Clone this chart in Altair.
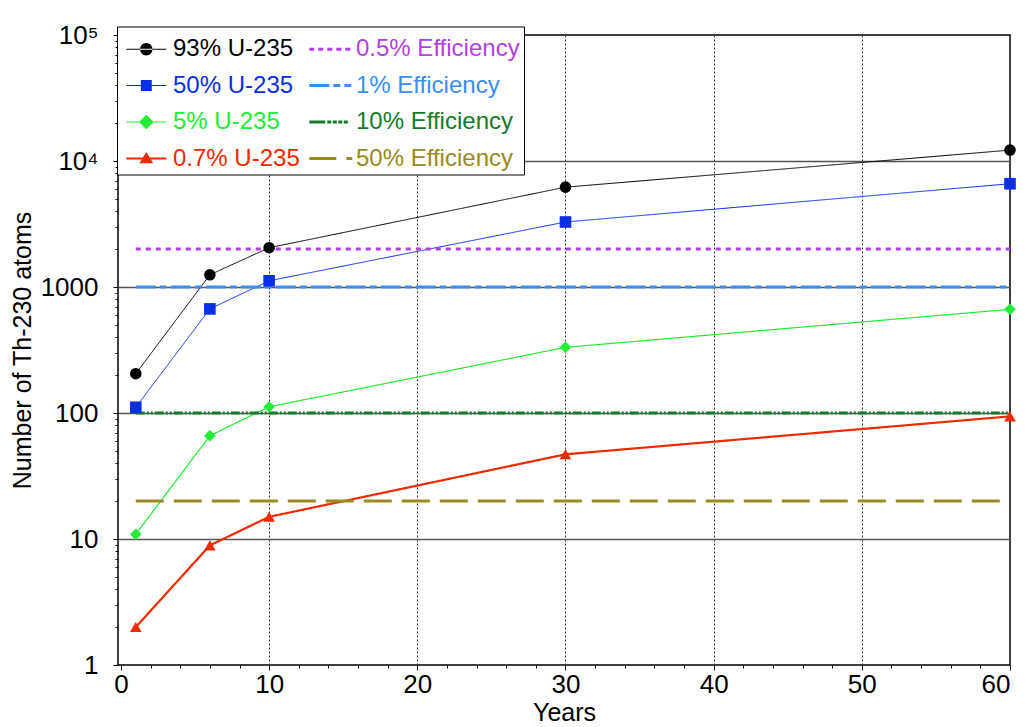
import altair as alt
import pandas as pd

years = [1, 6, 10, 30, 60]
u93 = [205, 1250, 2050, 6200, 12200]
u50 = [111, 670, 1120, 3280, 6600]
u5 = [10.9, 66, 112, 332, 665]
u07 = [2.0, 8.9, 15, 47, 94]

u_names = ["93% U-235", "50% U-235", "5% U-235", "0.7% U-235"]
u_markers = ["circle", "square", "diamond", "triangle-up"]
u_colors = ["#000000", "#0a2ee6", "#22ee33", "#ee2a00"]
u_widths = [1, 1, 1.2, 2.2]

eff_names = ["0.5% Efficiency", "1% Efficiency", "10% Efficiency", "50% Efficiency"]
eff_values = [2000, 1000, 100, 20]
eff_colors = ["#b23fe0", "#3a8ef2", "#137a2a", "#9a8a20"]
eff_dashes = [[5, 5], [20, 4, 7, 4], [9, 2, 2, 2, 2, 2], [28, 10]]
eff_years = [1, 60]

order = u_names + eff_names

# ---- legend symbol geometry (style only) ----
SYM = 1325                      # legend symbol area -> 36.4 px box
U = (SYM ** 0.5) / 2            # px per path unit


def rect(a, b, t):
    a, b, t = a / U, b / U, t / U
    return f"M{a:.3f},{-t:.3f}L{b:.3f},{-t:.3f}L{b:.3f},{t:.3f}L{a:.3f},{t:.3f}Z"


def dashed(pattern, start, t):
    out, x, on = "", start, True
    for seg in pattern:
        if on:
            out += rect(x, x + seg, t)
        x += seg
        on = not on
    return out


m = 6.8 / U
marker_paths = {
    "circle": f"M{m - 0.34:.3f},0A0.34,0.34 0 1,0 {m + 0.34:.3f},0A0.34,0.34 0 1,0 {m - 0.34:.3f},0Z",
    "square": f"M{m - 0.3:.3f},-0.3L{m + 0.3:.3f},-0.3L{m + 0.3:.3f},0.3L{m - 0.3:.3f},0.3Z",
    "diamond": f"M{m:.3f},-0.4L{m + 0.4:.3f},0L{m:.3f},0.4L{m - 0.4:.3f},0Z",
    "triangle-up": f"M{m:.3f},-0.36L{m + 0.38:.3f},0.26L{m - 0.38:.3f},0.26Z",
}
legend_dash = {
    "0.5% Efficiency": [5, 4, 5, 4, 5, 4, 5, 4, 5],
    "1% Efficiency": [20, 4, 7, 4, 7],
    "10% Efficiency": [16, 2, 4, 1.5, 4, 1.5, 4, 1.5, 4],
    "50% Efficiency": [27, 10, 6],
}

style = {}
for n, mk, c, w in zip(u_names, u_markers, u_colors, u_widths):
    style[n] = {"color": c, "dash": [1, 0], "width": w,
                "path": rect(-13.2, 26.8, w / 2) + marker_paths[mk]}
for n, c, d in zip(eff_names, eff_colors, eff_dashes):
    style[n] = {"color": c, "dash": d, "width": 3,
                "path": dashed(legend_dash[n], -13.2, 1.6)}

rows = []
for name, marker, vals in zip(u_names, u_markers, [u93, u50, u5, u07]):
    for yr, v in zip(years, vals):
        rows.append({"series": name, "year": yr, "value": v, "kind": "u", "marker": marker,
                     "color": style[name]["color"], "dash": style[name]["dash"], "width": style[name]["width"]})
for name, v in zip(eff_names, eff_values):
    for yr in eff_years:
        rows.append({"series": name, "year": yr, "value": v, "kind": "eff", "marker": "circle",
                     "color": style[name]["color"], "dash": style[name]["dash"], "width": style[name]["width"]})
df = pd.DataFrame(rows)

FONT = "Liberation Sans"

x_vals = list(range(0, 61, 2))
y_vals = []
for d in [1, 10, 100, 1000, 10000]:
    for k in range(1, 10):
        y_vals.append(k * d)
y_vals.append(100000)

x_enc = alt.X(
    "year:Q",
    scale=alt.Scale(domain=[-0.2, 60], nice=False, zero=False),
    axis=alt.Axis(
        title="Years", values=x_vals,
        labelExpr="datum.value % 10 == 0 ? datum.label : ''",
        gridDash=[2, 2], gridColor="#333333",
        gridOpacity={"condition": {"test": "datum.value % 10 == 0 && datum.value > 0 && datum.value < 60", "value": 1}, "value": 0},
        tickSize={"condition": {"test": "datum.value % 10 == 0", "value": 5}, "value": 3},
        tickColor="black", domain=False,
        labelFont=FONT, labelFontSize=26, labelColor="black", labelPadding=1,
        titleFont=FONT, titleFontSize=25, titleFontWeight="normal", titleColor="black", titlePadding=3,
    ),
)
y_enc = alt.Y(
    "value:Q",
    scale=alt.Scale(type="log", domain=[1, 100000], nice=False),
    axis=alt.Axis(
        title="Number of Th-230 atoms", values=y_vals,
        labelExpr="datum.value == 100000 ? '10⁵' : datum.value == 10000 ? '10⁴' : indexof([1, 10, 100, 1000], datum.value) >= 0 ? format(datum.value, 'd') : ''",
        gridColor="#555555", gridWidth=1.3,
        gridOpacity={"condition": {"test": "indexof([10, 100, 1000, 10000], datum.value) >= 0", "value": 1}, "value": 0},
        tickSize={"condition": {"test": "indexof([1, 10, 100, 1000, 10000, 100000], datum.value) >= 0", "value": 5}, "value": 3},
        tickColor="black", domain=False,
        labelFont=FONT, labelFontSize=26, labelColor="black", labelPadding=15,
        titleFont=FONT, titleFontSize=25, titleFontWeight="normal", titleColor="black", titlePadding=5,
    ),
)

lines = alt.Chart(df).mark_line(clip=True).encode(
    x=x_enc, y=y_enc,
    detail="series:N",
    color=alt.Color("color:N", scale=None),
    strokeDash=alt.StrokeDash("dash:N", scale=None),
    strokeWidth=alt.StrokeWidth("width:Q", scale=None),
    order="year:Q",
)

points = alt.Chart(df).transform_filter("datum.kind == 'u'").mark_point(filled=True, opacity=1, size=135).encode(
    x=x_enc, y=y_enc,
    color=alt.Color("color:N", scale=None),
    shape=alt.Shape("marker:N", scale=None),
)

# legend-only layer (no rows pass the filter); symbols are drawn by the shape scale's paths
q = lambda s: "'" + s + "'"
names_js = "[" + ",".join(q(n) for n in order) + "]"
colors_js = "[" + ",".join(q(style[n]["color"]) for n in order) + "]"
label_color_expr = colors_js + "[indexof(" + names_js + ", datum.value)]"

legend_layer = alt.Chart(df).transform_filter("datum.year < 0").mark_point(filled=True, opacity=1).encode(
    x=x_enc, y=y_enc,
    fill=alt.Fill("series:N", scale=alt.Scale(domain=order, range=[style[n]["color"] for n in order]),
                  legend=alt.Legend(title=None)),
    shape=alt.Shape("series:N", scale=alt.Scale(domain=order, range=[style[n]["path"] for n in order]),
                    legend=alt.Legend(title=None)),
)

chart = alt.layer(lines, points, legend_layer).properties(
    width=892, height=630,
    padding={"left": 2, "top": 14, "right": 0, "bottom": 0},
).configure_view(
    stroke="black", strokeWidth=1.5
).configure_legend(
    orient="none", legendX=-1, legendY=-8.5, columns=2,
    fillColor="white", strokeColor="black", padding=4,
    labelFont=FONT, labelFontSize=24, labelLimit=400, labelOffset=15,
    labelColor={"expr": label_color_expr},
    symbolSize=SYM, symbolStrokeWidth=0, rowPadding=5.5, columnPadding=4,
)

chart.save("out.html", embed_options={"renderer": "svg", "actions": False})
